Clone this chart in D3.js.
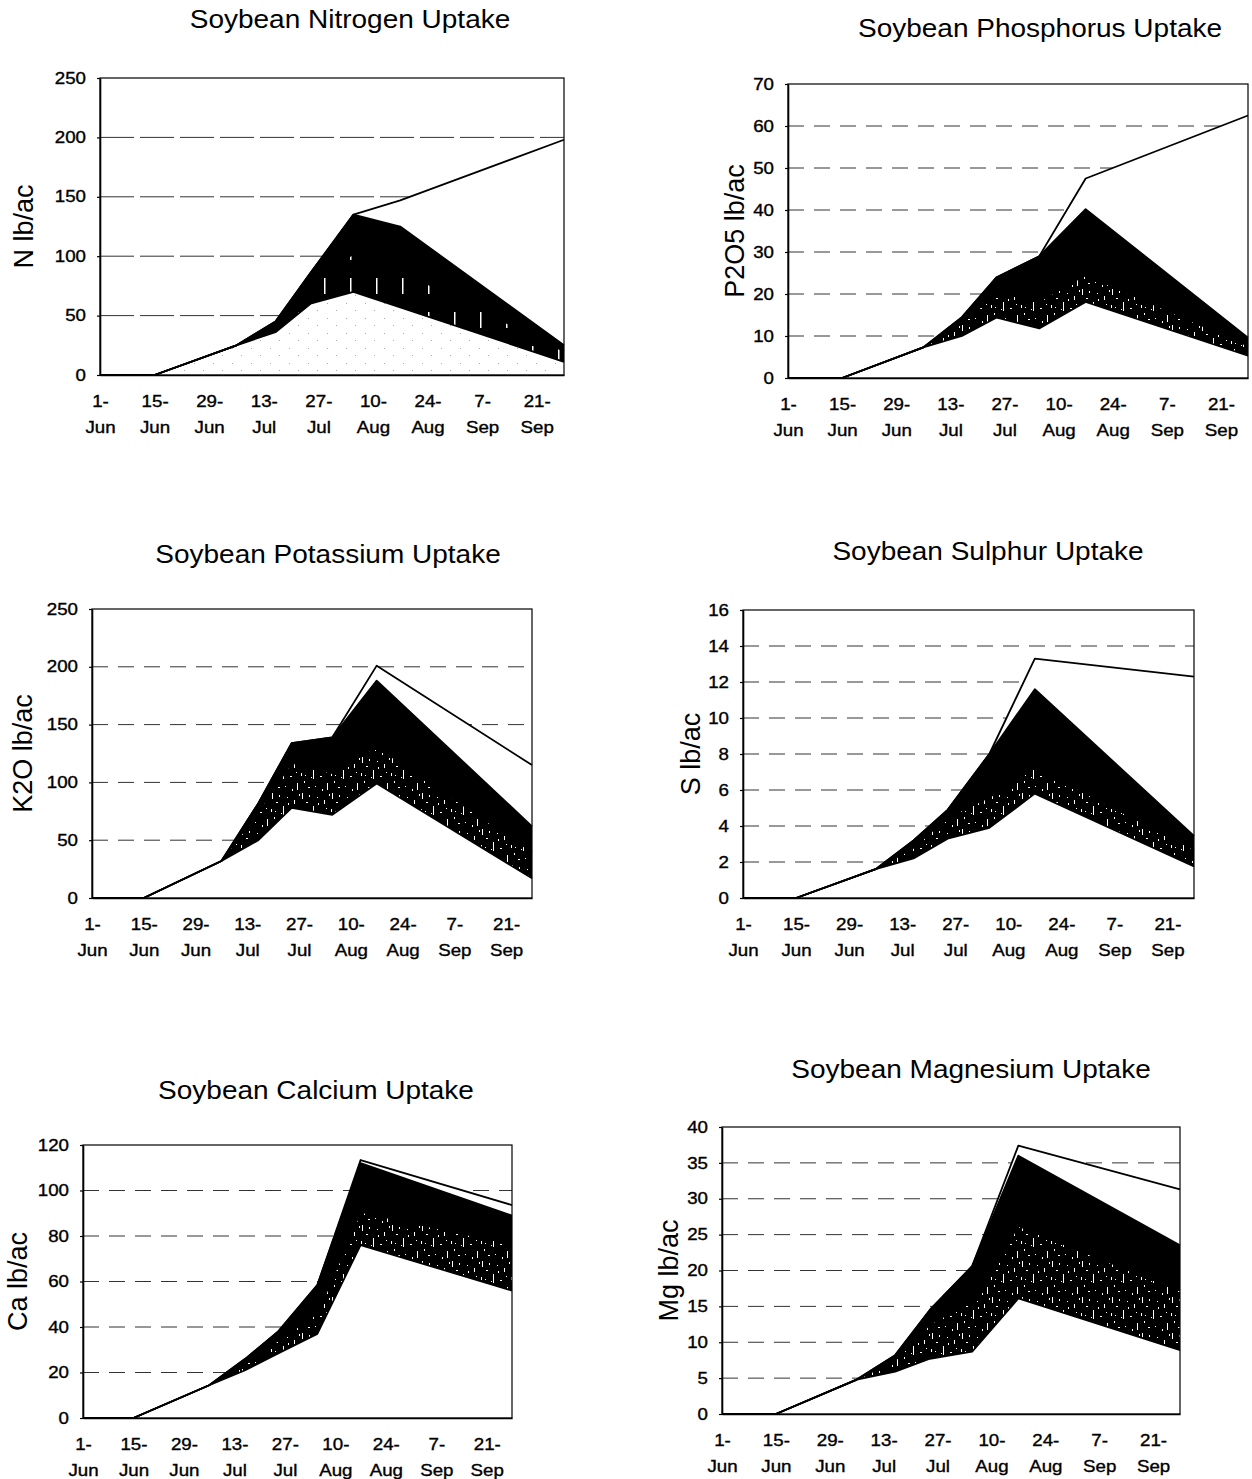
<!DOCTYPE html>
<html>
<head>
<meta charset="utf-8">
<script src="https://cdn.jsdelivr.net/npm/d3@7"></script>
<style>
  body { margin: 0; background: #fff; }
  svg { display: block; }
  text { font-family: "Liberation Sans", Arial, Helvetica, sans-serif; fill: #000; }
</style>
</head>
<body>
<div id="chart"></div>
<script>
// sample dates (growth stages) shared by every chart
const sampleDates = ["2000-06-01", "2000-06-15", "2000-07-06", "2000-07-16", "2000-07-25", "2000-08-05", "2000-08-17", "2000-09-28"];
const tickDates = ["2000-06-01", "2000-06-15", "2000-06-29", "2000-07-13", "2000-07-27", "2000-08-10", "2000-08-24", "2000-09-07", "2000-09-21"];
const tickDays = ["1-", "15-", "29-", "13-", "27-", "10-", "24-", "7-", "21-"];
const tickMonths = ["Jun", "Jun", "Jun", "Jul", "Jul", "Aug", "Aug", "Sep", "Sep"];

// stacked layers, lb/ac (bottom -> top)
const nitrogenBase   = [0, 0, 25, 36, 60, 70, 57, 11];
const nitrogenMiddle = [0, 0, 0, 4, 18, 32, 31, 9];
const nitrogenUpper  = [0, 0, 0, 5, 8, 33, 37, 5];
const nitrogenTop    = [0, 0, 0, 0, 0, 0, 22, 173];

const phosphorusBase   = [0, 0, 7.3, 10, 14.4, 11.8, 18.1, 5.3];
const phosphorusMiddle = [0, 0, 0, 3, 5.9, 6.5, 6.5, 2.4];
const phosphorusUpper  = [0, 0, 0, 1.5, 3.7, 10.7, 15.6, 1.9];
const phosphorusTop    = [0, 0, 0, 0, 0, 0, 7.3, 52.9];

const potassiumBase   = [0, 0, 32, 50, 78, 72, 99, 17];
const potassiumMiddle = [0, 0, 0, 25, 39, 36, 32, 23];
const potassiumUpper  = [0, 0, 0, 7, 17, 31, 57, 22];
const potassiumTop    = [0, 0, 0, 0, 0, 0, 13, 53];

const sulphurBase   = [0, 0, 1.6, 2.2, 3.3, 3.9, 5.8, 1.75];
const sulphurMiddle = [0, 0, 0, 0.6, 1.2, 1.7, 1.5, 0.95];
const sulphurUpper  = [0, 0, 0, 0.4, 0.4, 2.4, 4.3, 0.75];
const sulphurTop    = [0, 0, 0, 0, 0, 0, 1.7, 8.85];

const calciumBase   = [0, 0, 14.4, 21, 28.3, 37, 76, 56];
const calciumMiddle = [0, 0, 0, 3, 5.7, 9, 14.6, 20.5];
const calciumUpper  = [0, 0, 0, 2, 3.8, 12.4, 21.4, 12.5];
const calciumTop    = [0, 0, 0, 0, 0, 0, 1.4, 4.6];

const magnesiumBase   = [0, 0, 4.8, 5.9, 7.7, 8.7, 16.1, 8.9];
const magnesiumMiddle = [0, 0, 0, 1.6, 4.8, 7.1, 10.1, 8.3];
const magnesiumUpper  = [0, 0, 0, 0.7, 2, 4.8, 9.8, 6.3];
const magnesiumTop    = [0, 0, 0, 0, 0, 0, 1.4, 7.8];

const layerKeys = ["base", "middle", "upper", "top"];

// layout of the six panels
const panels = [
    { title: "Soybean Nitrogen Uptake", label: "N lb/ac", yMax: 250, yStep: 50,
      layers: [nitrogenBase, nitrogenMiddle, nitrogenUpper, nitrogenTop],
      box: [100, 78, 564, 375], titleAt: [350, 28], labelX: 33,
      baseFill: "url(#speckle)", midFill: "url(#streak)", dash: "34,6" },
    { title: "Soybean Phosphorus Uptake", label: "P2O5 lb/ac", yMax: 70, yStep: 10,
      layers: [phosphorusBase, phosphorusMiddle, phosphorusUpper, phosphorusTop],
      box: [788, 84, 1248, 378], titleAt: [1040, 37], labelX: 744,
      baseFill: "#fff", midFill: "url(#stipple)", dash: "16,10" },
    { title: "Soybean Potassium Uptake", label: "K2O lb/ac", yMax: 250, yStep: 50,
      layers: [potassiumBase, potassiumMiddle, potassiumUpper, potassiumTop],
      box: [92, 609, 532, 898], titleAt: [328, 563], labelX: 32,
      baseFill: "#fff", midFill: "url(#stipple)", dash: "16,10" },
    { title: "Soybean Sulphur Uptake", label: "S lb/ac", yMax: 16, yStep: 2,
      layers: [sulphurBase, sulphurMiddle, sulphurUpper, sulphurTop],
      box: [743, 610, 1194, 898], titleAt: [988, 560], labelX: 700,
      baseFill: "#fff", midFill: "url(#stipple)", dash: "16,10" },
    { title: "Soybean Calcium Uptake", label: "Ca lb/ac", yMax: 120, yStep: 20,
      layers: [calciumBase, calciumMiddle, calciumUpper, calciumTop],
      box: [83, 1145, 512, 1418], titleAt: [316, 1099], labelX: 27,
      baseFill: "#fff", midFill: "url(#stipple)", dash: "16,10" },
    { title: "Soybean Magnesium Uptake", label: "Mg lb/ac", yMax: 40, yStep: 5,
      layers: [magnesiumBase, magnesiumMiddle, magnesiumUpper, magnesiumTop],
      box: [722, 1127, 1180, 1414], titleAt: [971, 1078], labelX: 678,
      baseFill: "#fff", midFill: "url(#stipple)", dash: "16,10" },
];

const parseDate = d3.timeParse("%Y-%m-%d");
const xDomain = [parseDate("2000-06-01"), parseDate("2000-09-28")];
const stretch = 1.17; // the scanned lettering is a bit wide

const svg = d3.select("#chart")
    .append("svg")
    .attr("width", 1252)
    .attr("height", 1479);

// fill patterns for the scanned look
const defs = svg.append("defs");

const makePattern = (id, w, h, bg, fg, marks) => {
    const pat = defs.append("pattern")
        .attr("id", id)
        .attr("patternUnits", "userSpaceOnUse")
        .attr("width", w)
        .attr("height", h);
    pat.append("rect").attr("width", w).attr("height", h).attr("fill", bg);
    marks.forEach(([rx, ry, rw, rh]) => {
        pat.append("rect").attr("x", rx).attr("y", ry).attr("width", rw).attr("height", rh).attr("fill", fg);
    });
};

makePattern("stipple", 30, 36, "#000", "#fff", [
    [2, 1, 1, 6], [6, 10, 2, 1], [9, 3, 1, 2], [13, 14, 1, 9], [17, 5, 1, 1], [20, 20, 2, 1],
    [24, 8, 1, 4], [27, 27, 1, 7], [4, 25, 1, 2], [8, 31, 2, 1], [15, 30, 1, 1], [22, 33, 1, 2],
    [11, 21, 1, 1], [26, 16, 1, 1], [1, 17, 1, 3], [18, 11, 1, 2], [5, 19, 1, 1], [29, 2, 1, 2],
]);
makePattern("streak", 26, 34, "#000", "#fff", [[12, 6, 1.5, 16]]);
makePattern("speckle", 19, 15, "#fff", "#aaa", [[4, 3, 1, 1], [13, 10, 1, 1]]);

const drawPanel = (p) => {
    const [left, top, right, bottom] = p.box;
    const g = svg.append("g");

    const x = d3.scaleTime().domain(xDomain).range([left, right]);
    const y = d3.scaleLinear().domain([0, p.yMax]).range([bottom, top]);
    const yTicks = d3.range(0, p.yMax + p.yStep / 2, p.yStep);

    const rows = sampleDates.map((d, i) => {
        const row = { date: parseDate(d) };
        layerKeys.forEach((k, j) => { row[k] = p.layers[j][i]; });
        return row;
    });
    const stacked = d3.stack().keys(layerKeys)(rows);

    // dashed gridlines
    g.append("g")
        .selectAll("line")
        .data(yTicks.filter((t) => t > 0 && t < p.yMax))
        .enter()
        .append("line")
        .attr("x1", left)
        .attr("x2", right)
        .attr("y1", (d) => y(d))
        .attr("y2", (d) => y(d))
        .attr("stroke", "#333")
        .attr("stroke-width", 1)
        .attr("stroke-dasharray", p.dash);

    const area = d3.area()
        .x((d) => x(d.data.date))
        .y0((d) => y(d[0]))
        .y1((d) => y(d[1]));

    const fills = [p.baseFill, p.midFill, "#000", "#fff"];

    g.append("g")
        .selectAll("path")
        .data(stacked)
        .enter()
        .append("path")
        .attr("d", area)
        .attr("fill", (d, i) => fills[i]);

    const edge = d3.line()
        .x((d) => x(d.data.date))
        .y((d) => y(d[1]));

    g.append("g")
        .selectAll("path")
        .data(stacked)
        .enter()
        .append("path")
        .attr("d", edge)
        .attr("fill", "none")
        .attr("stroke", "#000")
        .attr("stroke-width", 1.8)
        .attr("stroke-linejoin", "round");

    // frame
    g.append("rect")
        .attr("x", left)
        .attr("y", top)
        .attr("width", right - left)
        .attr("height", bottom - top)
        .attr("fill", "none")
        .attr("stroke", "#000")
        .attr("stroke-width", 1.2);

    // y axis
    const ya = g.append("g")
        .attr("transform", `translate(${left},0)`)
        .call(d3.axisLeft(y).tickValues(yTicks).tickSize(3).tickSizeOuter(0).tickPadding(9));
    ya.select(".domain").attr("stroke-width", 1.6);
    ya.selectAll(".tick line").attr("stroke-width", 1.2);
    ya.selectAll(".tick text")
        .attr("font-size", 16)
        .attr("font-family", null)
        .attr("stroke", "#000")
        .attr("stroke-width", 0.35)
        .attr("transform", `scale(${stretch},1)`);

    // x axis, two-line date labels
    const xa = g.append("g")
        .attr("transform", `translate(0,${bottom})`)
        .call(d3.axisBottom(x)
            .tickValues(tickDates.map(parseDate))
            .tickSize(0)
            .tickSizeOuter(0)
            .tickFormat((d, i) => tickDays[i]));
    xa.select(".domain").attr("stroke-width", 1.6);
    xa.selectAll(".tick text")
        .attr("font-size", 16)
        .attr("font-family", null)
        .attr("stroke", "#000")
        .attr("stroke-width", 0.35)
        .attr("transform", `scale(${stretch},1)`)
        .each(function (d, i) {
            const t = d3.select(this);
            t.text(null).attr("y", null).attr("dy", null);
            t.append("tspan").attr("x", 0).attr("y", 32).text(tickDays[i]);
            t.append("tspan").attr("x", 0).attr("y", 58).text(tickMonths[i]);
        });

    // title
    svg.append("text")
        .attr("transform", `translate(${p.titleAt[0]},${p.titleAt[1]}) scale(1.12,1)`)
        .attr("text-anchor", "middle")
        .attr("font-size", 25)
        .text(p.title);

    // y axis title
    svg.append("text")
        .attr("transform", `translate(${p.labelX},${(top + bottom) / 2}) rotate(-90)`)
        .attr("text-anchor", "middle")
        .attr("font-size", 27)
        .text(p.label);
};

panels.forEach(drawPanel);
</script>
</body>
</html>
